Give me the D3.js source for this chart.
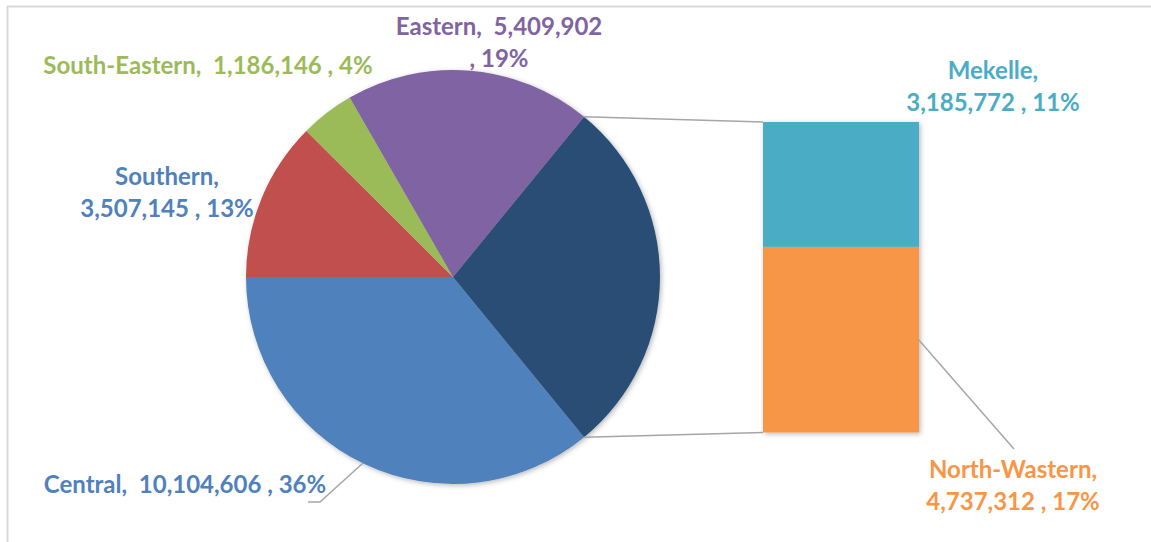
<!DOCTYPE html>
<html>
<head>
<meta charset="utf-8">
<script src="https://cdn.jsdelivr.net/npm/d3@7"></script>
<style>
  body { margin: 0; background: white; }
  text { font-family: Lato, "Open Sans", sans-serif; font-weight: 700; white-space: pre; }
</style>
</head>
<body>
<div id="myVis"></div>
<script>
var w = 1151;
var h = 542;

// data
var regions = ["Central", "Southern", "South-Eastern", "Eastern", "Mekelle", "North-Wastern"];
var population = [10104606, 3507145, 1186146, 5409902, 3185772, 4737312];
var percents = ["36%", "13%", "4%", "19%", "11%", "17%"];
var pieRegions = ["Central", "Southern", "South-Eastern", "Eastern"];
var barRegions = ["North-Wastern", "Mekelle"]; // bottom to top

var colors = {
  "Central": "#4F81BD",
  "Southern": "#C0504D",
  "South-Eastern": "#9BBB59",
  "Eastern": "#8064A2",
  "Other": "#2C4D75",
  "Mekelle": "#4BACC6",
  "North-Wastern": "#F79646"
};
var labelColors = {
  "Central": "#4F81BD",
  "Southern": "#4F81BD",
  "South-Eastern": "#9BBB59",
  "Eastern": "#8064A2",
  "Mekelle": "#4BACC6",
  "North-Wastern": "#F79646"
};

var svg = d3.select("#myVis").append("svg")
  .attr("width", w)
  .attr("height", h);

var defs = svg.append("defs");
var f = defs.append("filter").attr("id", "shadow")
  .attr("x", "-10%").attr("y", "-10%").attr("width", "120%").attr("height", "120%");
f.append("feDropShadow").attr("dx", 1.5).attr("dy", 1.5)
  .attr("stdDeviation", 2.5).attr("flood-color", "#000").attr("flood-opacity", 0.28);

// chart border (only top + left visible)
svg.append("line").attr("x1", 7).attr("y1", 6.5).attr("x2", w).attr("y2", 6.5)
  .attr("stroke", "#d9d9d9").attr("stroke-width", 2);
svg.append("line").attr("x1", 7.5).attr("y1", 6).attr("x2", 7.5).attr("y2", h)
  .attr("stroke", "#d9d9d9").attr("stroke-width", 2);

function valueOf(name) { return population[regions.indexOf(name)]; }

function draw() {
  var cx = 453, cy = 277, r = 207;

  var otherValue = d3.sum(barRegions, valueOf);
  var total = d3.sum(population);
  var otherFrac = otherValue / total;

  var pieData = pieRegions.map(function(n) { return { name: n, value: valueOf(n) }; });
  pieData.push({ name: "Other", value: otherValue });

  var start = Math.PI / 2 + otherFrac * Math.PI;
  var pie = d3.pie().sort(null).value(function(d) { return d.value; })
    .startAngle(start).endAngle(start + 2 * Math.PI);
  var arcs = pie(pieData);
  var arc = d3.arc().innerRadius(0).outerRadius(r);

  var pieG = svg.append("g").attr("transform", "translate(" + cx + "," + cy + ")");
  pieG.append("g").attr("filter", "url(#shadow)")
    .selectAll("path")
    .data(arcs)
    .enter()
    .append("path")
    .attr("d", arc)
    .attr("fill", function(d) { return colors[d.data.name]; });

  // bar of "Other"
  var barX = d3.scaleBand().domain(["Other"]).range([763, 919]).padding(0);
  var barY = d3.scaleLinear().domain([0, otherValue]).range([432.5, 122]);
  var stack = d3.stack().keys(barRegions)([
    barRegions.reduce(function(o, n) { o[n] = valueOf(n); return o; }, {})
  ]);
  var barG = svg.append("g").attr("filter", "url(#shadow)");
  barG.selectAll("rect")
    .data(stack)
    .enter()
    .append("rect")
    .attr("x", barX("Other"))
    .attr("width", barX.bandwidth())
    .attr("y", function(s) { return barY(s[0][1]); })
    .attr("height", function(s) { return barY(s[0][0]) - barY(s[0][1]); })
    .attr("fill", function(s) { return colors[s.key]; });

  // connector lines from pie "Other" edges to bar corners
  var other = arcs[arcs.length - 1];
  function edge(a) { return [cx + r * Math.sin(a), cy - r * Math.cos(a)]; }
  var pTop = edge(other.startAngle), pBot = edge(other.endAngle);
  var conn = [
    [pTop, [barX("Other"), barY(otherValue)]],
    [pBot, [barX("Other"), barY(0)]]
  ];
  svg.selectAll(".conn").data(conn).enter().append("line")
    .attr("class", "conn")
    .attr("x1", function(d) { return d[0][0]; }).attr("y1", function(d) { return d[0][1]; })
    .attr("x2", function(d) { return d[1][0]; }).attr("y2", function(d) { return d[1][1]; })
    .attr("stroke", "#a6a6a6").attr("stroke-width", 1.5);

  // leader lines
  var leaders = [
    [[308, 502], [320, 502], [363, 463]],
    [[918, 339], [1014, 449]]
  ];
  svg.selectAll(".leader").data(leaders).enter().append("polyline")
    .attr("class", "leader")
    .attr("points", function(d) { return d.map(function(p) { return p.join(","); }).join(" "); })
    .attr("fill", "none").attr("stroke", "#a6a6a6").attr("stroke-width", 1.5);

  // labels
  var fmt = d3.format(",");
  function parts(n) {
    var i = regions.indexOf(n);
    return { name: n + ",", num: fmt(population[i]), pct: percents[i] };
  }
  var labelLayout = [
    { name: "South-Eastern", x: 208, y: 74, lines: function(p) { return [p.name + "  " + p.num + " , " + p.pct]; } },
    { name: "Eastern", x: 499, y: 35, lines: function(p) { return [p.name + "  " + p.num, ", " + p.pct]; } },
    { name: "Mekelle", x: 993, y: 79, lines: function(p) { return [p.name, p.num + " , " + p.pct]; } },
    { name: "Southern", x: 167, y: 185, lines: function(p) { return [p.name, p.num + " , " + p.pct]; } },
    { name: "Central", x: 185, y: 493, lines: function(p) { return [p.name + "  " + p.num + " , " + p.pct]; } },
    { name: "North-Wastern", x: 1013, y: 478, lines: function(p) { return [p.name, p.num + " , " + p.pct]; } }
  ];
  var lineH = 32;
  labelLayout.forEach(function(l) {
    var t = svg.append("text")
      .attr("text-anchor", "middle")
      .attr("font-size", 24)
      .attr("fill", labelColors[l.name]);
    l.lines(parts(l.name)).forEach(function(s, i) {
      t.append("tspan").attr("x", l.x).attr("y", l.y + i * lineH).text(s);
    });
  });
}

draw();
</script>
</body>
</html>
